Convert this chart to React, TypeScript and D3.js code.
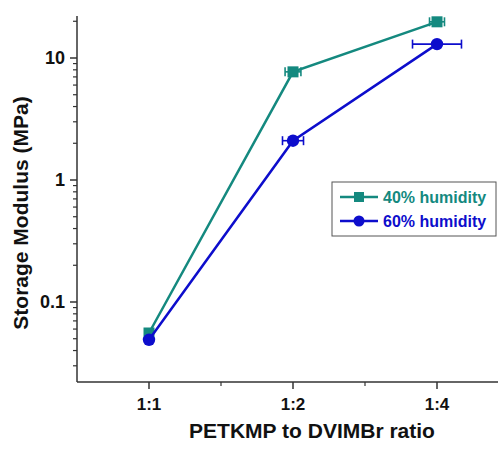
import React from "react";
import * as d3 from "d3";

const categories = ["1:1", "1:2", "1:4"];
const series40 = [0.0557, 7.7, 19.8];
const series40Err = [0, 0.055, 0.052];
const series60 = [0.049, 2.1, 13.0];
const series60Err = [0, 0.073, 0.17];
const yTickValues = [0.1, 1, 10];
const yTickLabels = ["0.1", "1", "10"];
const legendLabels = ["40% humidity", "60% humidity"];

const W = 498;
const H = 449;
const TEAL = "#14897f";
const BLUE = "#0d0dcc";
const FONT = "Arial, 'Liberation Sans', sans-serif";

export default function App() {
  const x = d3.scaleLinear().domain([-0.5, 2.5]).range([77, 509]);
  const y = d3.scaleLog().domain([0.1 * Math.pow(10, -80 / 122), 10 * Math.pow(10, 42 / 122)]).range([382, 16]);
  const [x0, x1] = [77, 498];
  const [yb, yt] = [382, 16];

  const minorY: number[] = [];
  [0.01, 0.1, 1, 10].forEach((dec) => {
    for (let k = 2; k <= 9; k++) {
      const v = dec * k;
      const py = y(v);
      if (py <= yb && py >= yt) minorY.push(v);
    }
  });

  const line = d3
    .line<number>()
    .x((_, i) => x(i))
    .y((d) => y(d));

  const renderSeries = (vals: number[], errs: number[], color: string, kind: "sq" | "ci") => (
    <g>
      <path d={line(vals) || ""} fill="none" stroke={color} strokeWidth={2.5} />
      {vals.map((v, i) =>
        errs[i] > 0 ? (
          <g key={"e" + i} stroke={color} strokeWidth={1.6}>
            <line x1={x(i - errs[i])} x2={x(i + errs[i])} y1={y(v)} y2={y(v)} />
            <line x1={x(i - errs[i])} x2={x(i - errs[i])} y1={y(v) - 4.5} y2={y(v) + 4.5} />
            <line x1={x(i + errs[i])} x2={x(i + errs[i])} y1={y(v) - 4.5} y2={y(v) + 4.5} />
          </g>
        ) : null
      )}
      {vals.map((v, i) =>
        kind === "sq" ? (
          <rect key={"m" + i} x={x(i) - 5.5} y={y(v) - 5.5} width={11} height={11} fill={color} />
        ) : (
          <circle key={"m" + i} cx={x(i)} cy={y(v)} r={6.2} fill={color} />
        )
      )}
    </g>
  );

  return (
    <svg width={W} height={H} style={{ position: "absolute", left: 0, top: 0, background: "#fff" }} fontFamily={FONT}>
      <line x1={x0} x2={x0} y1={yt} y2={yb} stroke="#333" strokeWidth={1.5} />
      <line x1={x0} x2={x1} y1={yb} y2={yb} stroke="#333" strokeWidth={1.5} />
      {yTickValues.map((v, i) => (
        <g key={"yt" + i}>
          <line x1={x0 - 7} x2={x0} y1={y(v)} y2={y(v)} stroke="#333" strokeWidth={1.5} />
          <text x={x0 - 12} y={y(v)} dy="0.36em" textAnchor="end" fontSize={18} fontWeight="bold" fill="#111">
            {yTickLabels[i]}
          </text>
        </g>
      ))}
      {minorY.map((v, i) => (
        <line key={"ym" + i} x1={x0 - 4} x2={x0} y1={y(v)} y2={y(v)} stroke="#333" strokeWidth={1.2} />
      ))}
      {categories.map((c, i) => (
        <g key={"xt" + i}>
          <line x1={x(i)} x2={x(i)} y1={yb} y2={yb + 7} stroke="#333" strokeWidth={1.5} />
          <text x={x(i)} y={410} textAnchor="middle" fontSize={17} fontWeight="bold" fill="#111">
            {c}
          </text>
        </g>
      ))}
      {[0.5, 1.5].map((v, i) => (
        <line key={"xm" + i} x1={x(v)} x2={x(v)} y1={yb} y2={yb + 4} stroke="#333" strokeWidth={1.2} />
      ))}
      <text x={312} y={438} textAnchor="middle" fontSize={21} fontWeight="bold" fill="#111">
        PETKMP to DVIMBr ratio
      </text>
      <text
        transform={`translate(28,213) rotate(-90)`}
        textAnchor="middle"
        fontSize={21}
        fontWeight="bold"
        fill="#111"
      >
        Storage Modulus (MPa)
      </text>

      {renderSeries(series40, series40Err, TEAL, "sq")}
      {renderSeries(series60, series60Err, BLUE, "ci")}

      <rect x={332} y={182} width={164} height={54} fill="#fff" stroke="#555" strokeWidth={1} />
      <line x1={340} x2={378} y1={197} y2={197} stroke={TEAL} strokeWidth={2.5} />
      <rect x={354} y={192} width={10} height={10} fill={TEAL} />
      <text x={383} y={203} fontSize={16} fontWeight="bold" fill={TEAL}>
        {legendLabels[0]}
      </text>
      <line x1={340} x2={378} y1={221} y2={221} stroke={BLUE} strokeWidth={2.5} />
      <circle cx={359} cy={221} r={5.5} fill={BLUE} />
      <text x={383} y={227} fontSize={16} fontWeight="bold" fill={BLUE}>
        {legendLabels[1]}
      </text>
    </svg>
  );
}
